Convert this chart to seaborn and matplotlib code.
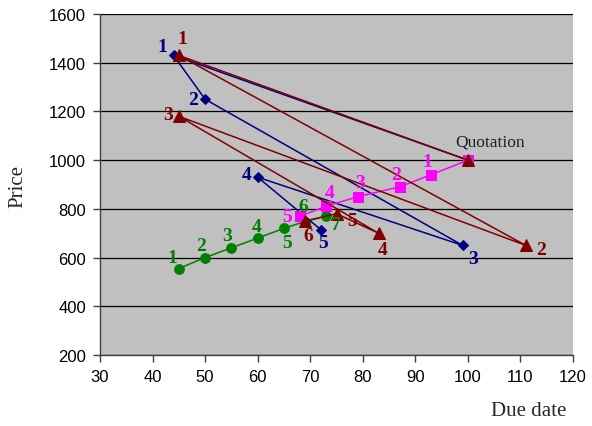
import matplotlib
matplotlib.use("Agg")
import matplotlib.pyplot as plt
import seaborn as sns
import pandas as pd

# ---- data ----
quote_x = [100]
quote_y = [1000]

green_x = [45, 50, 55, 60, 65, 69, 73]
green_y = [555, 600, 640, 680, 720, 748, 770]
green_lab = ["1", "2", "3", "4", "5", "6", "7"]

blue_x = [100, 44, 50, 99, 60, 72]
blue_y = [1000, 1430, 1250, 650, 930, 715]
blue_lab = ["", "1", "2", "3", "4", "5"]

mag_x = [100, 93, 87, 79, 73, 68]
mag_y = [1000, 940, 890, 850, 810, 770]
mag_lab = ["", "1", "2", "3", "4", "5"]

red_x = [100, 45, 111, 45, 83, 75, 69]
red_y = [1000, 1430, 650, 1180, 700, 780, 750]
red_lab = ["", "1", "2", "3", "4", "5", "6"]

x_ticks = [30, 40, 50, 60, 70, 80, 90, 100, 110, 120]
y_ticks = [200, 400, 600, 800, 1000, 1200, 1400, 1600]

# ---- style: label offsets in pixels (dx, dy up) ----
green_off = [(-7, 11), (-4, 12), (-4, 12), (-1, 12), (3, -14), (-2, 15), (10, -8)]
blue_off = [None, (-11, 9), (-12, 0), (10, -13), (-11, 3), (2, -13)]
mag_off = [None, (-4, 13), (-4, 12), (3, 14), (4, 14), (-13, 0)]
red_off = [None, (3, 17), (15, -4), (-11, 2), (4, -16), (16, -7), (3, -14)]

sns.set_theme(style="ticks")
plt.rcParams["font.family"] = ["Liberation Sans", "DejaVu Sans"]

fig = plt.figure(figsize=(5.92, 4.27), dpi=100)
ax = fig.add_axes([100 / 592, 1 - 356 / 427, 473 / 592, 341 / 427])
ax.set_facecolor("#C0C0C0")

series = [
    (green_x, green_y, green_lab, green_off, "#008000", "o", 7),
    (blue_x, blue_y, blue_lab, blue_off, "#000080", "D", 5),
    (mag_x, mag_y, mag_lab, mag_off, "#FF00FF", "s", 7),
    (red_x, red_y, red_lab, red_off, "#800000", "^", 9),
]

for xs, ys, labs, offs, col, mk, ms in series:
    df = pd.DataFrame({"x": xs, "y": ys})
    sns.lineplot(data=df, x="x", y="y", sort=False, estimator=None, ax=ax,
                 color=col, marker=mk, markersize=ms, markeredgecolor=col,
                 markerfacecolor=col, linewidth=1.1, zorder=3)
    for xv, yv, lab, off in zip(xs, ys, labs, offs):
        if lab and off is not None:
            ax.annotate(lab, (xv, yv), xytext=off, textcoords="offset pixels",
                        ha="center", va="center", color=col, fontsize=14,
                        fontweight="bold", family="Liberation Serif", zorder=5)

ax.annotate("Quotation", (quote_x[0], quote_y[0]), xytext=(22, 19),
            textcoords="offset pixels", ha="center", va="center",
            color="#202020", fontsize=12.5, family="Liberation Serif", zorder=5)

ax.set_xlim(30, 120)
ax.set_ylim(200, 1600)
ax.set_xticks(x_ticks)
ax.set_yticks(y_ticks)
ax.yaxis.grid(True, color="black", linewidth=0.9)
ax.set_axisbelow(True)
for s in ["top", "right"]:
    ax.spines[s].set_visible(False)
for s in ["left", "bottom"]:
    ax.spines[s].set_color("#404040")
    ax.spines[s].set_linewidth(1.0)
ax.tick_params(axis="both", direction="out", length=5, width=1, color="#404040",
               labelsize=12, labelcolor="black", pad=5)

ax.set_xlabel("")
ax.set_ylabel("")
fig.text(529 / 592, 1 - 412 / 427, "Due date", ha="center", va="center",
         fontsize=15, family="Liberation Serif")
fig.text(18 / 592, 1 - 186 / 427, "Price", ha="center", va="center",
         rotation=90, fontsize=15, family="Liberation Serif")

fig.savefig("out.png", dpi=100, facecolor="white")
